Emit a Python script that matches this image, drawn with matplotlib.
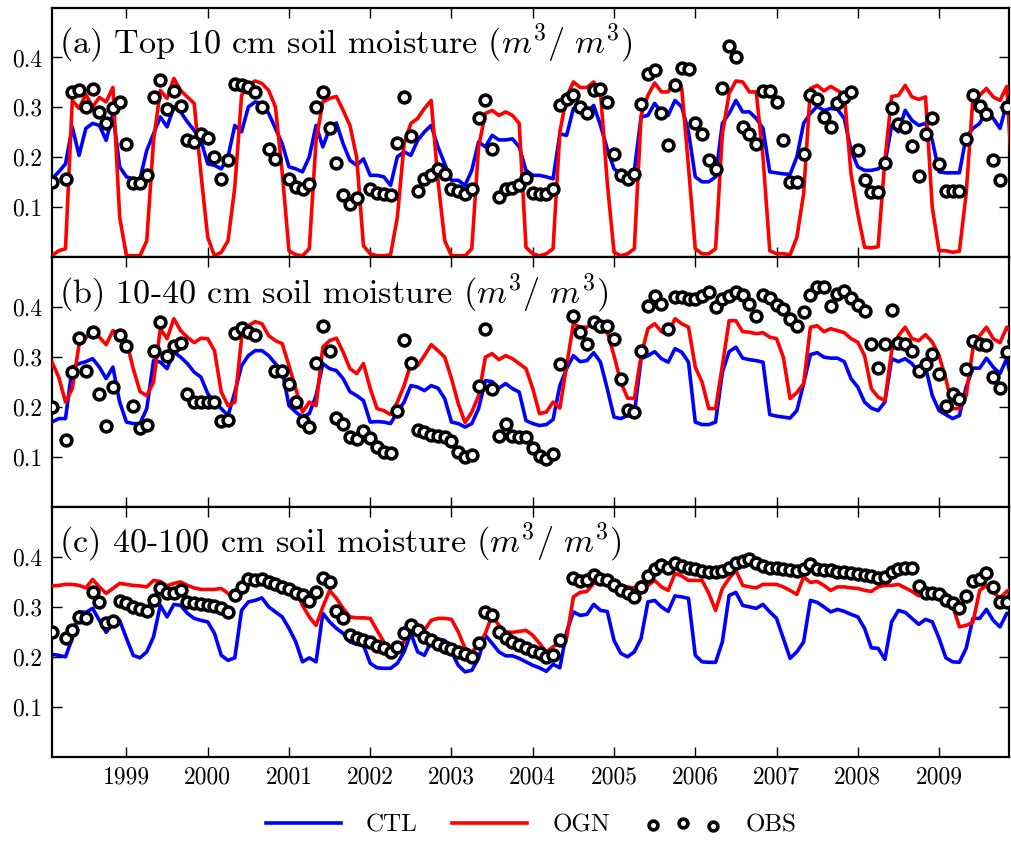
import numpy as np
import matplotlib
matplotlib.use('Agg')
import matplotlib.pyplot as plt

nan = np.nan

# monthly values, Feb 1998 .. Dec 2009 (one row per year)
months = np.arange(1, 144)
years = [1999, 2000, 2001, 2002, 2003, 2004, 2005, 2006, 2007, 2008, 2009]

# (a) top 10 cm
ctl_a = [0.157, 0.171, 0.187, 0.261, 0.204, 0.258, 0.268, 0.264, 0.234, 0.288, 0.181,
         0.161, 0.157, 0.157, 0.214, 0.247, 0.281, 0.261, 0.301, 0.291, 0.271, 0.254, 0.234,
         0.187, 0.184, 0.177, 0.201, 0.264, 0.251, 0.301, 0.311, 0.308, 0.288, 0.258, 0.227,
         0.181, 0.177, 0.171, 0.201, 0.264, 0.221, 0.258, 0.269, 0.227, 0.194, 0.184, 0.197,
         0.164, 0.164, 0.161, 0.144, 0.201, 0.211, 0.204, 0.234, 0.251, 0.264, 0.221, 0.187,
         0.154, 0.154, 0.144, 0.174, 0.231, 0.221, 0.244, 0.235, 0.235, 0.237, 0.221, 0.174,
         0.164, 0.164, 0.161, 0.157, 0.247, 0.244, 0.298, 0.291, 0.291, 0.304, 0.264, 0.217,
         0.177, 0.167, 0.167, 0.174, 0.281, 0.284, 0.308, 0.291, 0.284, 0.314, 0.301, 0.251,
         0.161, 0.151, 0.151, 0.161, 0.268, 0.288, 0.314, 0.291, 0.291, 0.278, 0.258, 0.171,
         0.169, 0.167, 0.166, 0.201, 0.268, 0.288, 0.302, 0.294, 0.298, 0.296, 0.278, 0.214,
         0.181, 0.174, 0.174, 0.177, 0.187, 0.264, 0.251, 0.294, 0.274, 0.264, 0.268, 0.234,
         0.171, 0.169, 0.169, 0.169, 0.241, 0.258, 0.268, 0.294, 0.278, 0.258, 0.308, 0.247]
ogn_a = [0.003, 0.013, 0.017, 0.314, 0.298, 0.326, 0.301, 0.32, 0.311, 0.34, 0.08,
         0.003, 0.003, 0.003, 0.033, 0.234, 0.334, 0.318, 0.358, 0.334, 0.321, 0.308, 0.167,
         0.04, 0.003, 0.01, 0.033, 0.14, 0.324, 0.344, 0.353, 0.348, 0.334, 0.301, 0.17,
         0.013, 0.005, 0.003, 0.017, 0.234, 0.311, 0.318, 0.322, 0.294, 0.264, 0.2, 0.023,
         0.007, 0.003, 0.003, 0.005, 0.08, 0.227, 0.268, 0.278, 0.298, 0.314, 0.154, 0.033,
         0.003, 0.003, 0.003, 0.017, 0.221, 0.288, 0.294, 0.284, 0.291, 0.284, 0.268, 0.02,
         0.007, 0.003, 0.007, 0.017, 0.251, 0.321, 0.351, 0.34, 0.34, 0.351, 0.331, 0.15,
         0.01, 0.003, 0.007, 0.017, 0.284, 0.324, 0.349, 0.331, 0.331, 0.355, 0.338, 0.181,
         0.017, 0.007, 0.007, 0.017, 0.247, 0.328, 0.353, 0.351, 0.331, 0.331, 0.2, 0.013,
         0.007, 0.007, 0.005, 0.04, 0.127, 0.338, 0.344, 0.333, 0.342, 0.334, 0.326, 0.167,
         0.087, 0.02, 0.019, 0.021, 0.194, 0.322, 0.324, 0.344, 0.321, 0.316, 0.321, 0.1,
         0.013, 0.013, 0.01, 0.012, 0.127, 0.318, 0.324, 0.338, 0.321, 0.314, 0.342, 0.114]
obs_a = [0.15, nan, 0.157, 0.331, 0.334, 0.301, 0.336, 0.291, 0.268, 0.298, 0.311,
         0.226, 0.148, 0.148, 0.164, 0.32, 0.355, 0.296, 0.333, 0.302, 0.234, 0.231, 0.247,
         0.239, 0.2, 0.156, 0.194, 0.346, 0.344, 0.34, 0.331, 0.301, 0.217, 0.197, nan,
         0.157, 0.14, 0.137, 0.146, 0.3, 0.331, 0.258, 0.189, 0.124, 0.107, 0.119, nan,
         0.137, 0.128, 0.126, 0.124, 0.229, 0.32, 0.242, 0.132, 0.157, 0.164, 0.177, 0.167,
         0.137, 0.132, 0.126, 0.137, 0.278, 0.314, 0.217, 0.12, 0.137, 0.139, 0.144, 0.159,
         0.128, 0.127, 0.127, 0.137, 0.304, 0.316, 0.324, 0.301, 0.288, 0.334, 0.336, 0.311,
         0.207, 0.164, 0.157, 0.166, 0.306, 0.367, 0.375, 0.288, 0.224, 0.344, 0.378, 0.376,
         0.269, 0.246, 0.195, 0.177, 0.338, 0.423, 0.4, 0.261, 0.246, 0.227, 0.333, 0.333,
         0.311, 0.235, 0.151, 0.151, 0.207, 0.324, 0.316, 0.281, 0.261, 0.309, 0.321, 0.331,
         0.215, 0.154, 0.13, 0.13, 0.189, 0.298, 0.266, 0.261, 0.223, 0.163, 0.247, 0.278,
         0.187, 0.132, 0.132, 0.132, 0.237, 0.324, 0.302, 0.286, 0.194, 0.154, 0.301, 0.318]

# (b) 10-40 cm
ctl_b = [0.17, 0.177, 0.177, 0.28, 0.287, 0.291, 0.297, 0.28, 0.257, 0.28, 0.21,
         0.17, 0.167, 0.167, 0.197, 0.293, 0.29, 0.277, 0.31, 0.3, 0.287, 0.27, 0.26,
         0.227, 0.21, 0.197, 0.183, 0.23, 0.283, 0.303, 0.313, 0.313, 0.303, 0.287, 0.273,
         0.203, 0.19, 0.18, 0.187, 0.223, 0.287, 0.277, 0.273, 0.257, 0.231, 0.223, 0.213,
         0.17, 0.171, 0.17, 0.167, 0.19, 0.21, 0.243, 0.24, 0.233, 0.243, 0.238, 0.217,
         0.17, 0.167, 0.16, 0.167, 0.197, 0.253, 0.251, 0.238, 0.247, 0.237, 0.23, 0.173,
         0.167, 0.163, 0.165, 0.175, 0.243, 0.277, 0.303, 0.291, 0.293, 0.309, 0.29, 0.237,
         0.18, 0.177, 0.183, 0.187, 0.297, 0.303, 0.311, 0.297, 0.29, 0.317, 0.31, 0.29,
         0.17, 0.165, 0.165, 0.17, 0.27, 0.311, 0.32, 0.298, 0.295, 0.293, 0.29, 0.185,
         0.182, 0.18, 0.178, 0.193, 0.247, 0.305, 0.309, 0.3, 0.298, 0.298, 0.291, 0.257,
         0.24, 0.21, 0.198, 0.193, 0.21, 0.297, 0.291, 0.297, 0.287, 0.27, 0.28, 0.223,
         0.193, 0.185, 0.177, 0.183, 0.24, 0.278, 0.278, 0.298, 0.28, 0.267, 0.297, 0.237]
ogn_b = [0.29, 0.26, 0.21, 0.237, 0.325, 0.338, 0.357, 0.34, 0.325, 0.353, 0.347,
         0.333, 0.277, 0.231, 0.223, 0.25, 0.357, 0.337, 0.377, 0.353, 0.34, 0.329, 0.338,
         0.337, 0.313, 0.23, 0.203, 0.21, 0.338, 0.363, 0.371, 0.367, 0.343, 0.333, 0.327,
         0.283, 0.237, 0.19, 0.21, 0.203, 0.32, 0.333, 0.338, 0.31, 0.277, 0.267, 0.287,
         0.237, 0.197, 0.193, 0.185, 0.21, 0.243, 0.287, 0.283, 0.303, 0.325, 0.313, 0.3,
         0.257, 0.207, 0.169, 0.19, 0.223, 0.3, 0.307, 0.295, 0.303, 0.297, 0.287, 0.277,
         0.237, 0.187, 0.19, 0.21, 0.198, 0.283, 0.367, 0.36, 0.36, 0.37, 0.35, 0.351,
         0.303, 0.25, 0.218, 0.217, 0.303, 0.357, 0.367, 0.351, 0.347, 0.377, 0.367, 0.36,
         0.28, 0.25, 0.197, 0.197, 0.283, 0.373, 0.373, 0.351, 0.35, 0.347, 0.349, 0.34,
         0.337, 0.3, 0.217, 0.229, 0.247, 0.36, 0.363, 0.351, 0.357, 0.353, 0.349, 0.337,
         0.33, 0.303, 0.237, 0.22, 0.213, 0.313, 0.343, 0.36, 0.337, 0.333, 0.345, 0.33,
         0.303, 0.257, 0.197, 0.197, 0.223, 0.317, 0.343, 0.36, 0.337, 0.329, 0.36, 0.343]
obs_b = [0.2, nan, 0.135, 0.27, 0.338, 0.273, 0.351, 0.227, 0.163, 0.24, 0.345,
         0.323, 0.203, 0.158, 0.165, 0.313, 0.371, 0.303, 0.323, 0.329, 0.227, 0.211, 0.211,
         0.211, 0.21, 0.173, 0.175, 0.349, 0.358, 0.351, 0.345, nan, nan, 0.273, 0.273,
         0.247, 0.211, 0.173, 0.16, 0.289, 0.363, 0.313, 0.178, 0.167, 0.14, 0.137, 0.153,
         0.138, 0.12, 0.111, 0.109, 0.193, 0.335, 0.289, 0.155, 0.15, 0.145, 0.142, 0.14,
         0.133, 0.11, 0.1, 0.105, 0.242, 0.357, 0.237, 0.143, 0.167, 0.143, 0.14, 0.14,
         0.118, 0.103, 0.097, 0.107, 0.287, nan, 0.382, 0.35, 0.327, 0.37, 0.362, 0.362,
         0.337, 0.257, 0.195, 0.19, 0.313, 0.403, 0.422, 0.407, 0.357, 0.42, 0.42, 0.417,
         0.417, 0.423, 0.431, 0.4, 0.417, 0.423, 0.431, 0.425, 0.407, 0.383, 0.425, 0.418,
         0.405, 0.397, 0.377, 0.362, 0.391, 0.425, 0.44, 0.44, 0.403, 0.427, 0.433, 0.418,
         0.405, 0.393, 0.327, 0.278, 0.327, 0.395, 0.329, 0.327, 0.313, 0.273, 0.287, 0.307,
         0.267, 0.202, 0.227, 0.217, 0.277, 0.333, 0.327, 0.325, 0.26, 0.238, 0.31, 0.333]

# (c) 40-100 cm
ctl_c = [0.205, 0.203, 0.2, 0.237, 0.29, 0.289, 0.297, 0.273, 0.249, 0.267, 0.273,
         0.237, 0.203, 0.198, 0.21, 0.24, 0.303, 0.28, 0.305, 0.303, 0.287, 0.277, 0.273,
         0.27, 0.247, 0.203, 0.193, 0.198, 0.293, 0.31, 0.313, 0.318, 0.3, 0.29, 0.28,
         0.257, 0.23, 0.19, 0.198, 0.19, 0.287, 0.27, 0.257, 0.247, 0.23, 0.225, 0.223,
         0.187, 0.178, 0.177, 0.177, 0.187, 0.21, 0.247, 0.21, 0.203, 0.231, 0.235, 0.233,
         0.21, 0.183, 0.17, 0.173, 0.197, 0.243, 0.227, 0.21, 0.202, 0.202, 0.197, 0.19,
         0.183, 0.178, 0.171, 0.185, 0.178, 0.25, 0.29, 0.283, 0.285, 0.305, 0.293, 0.291,
         0.233, 0.207, 0.2, 0.21, 0.237, 0.31, 0.313, 0.3, 0.291, 0.322, 0.32, 0.317,
         0.203, 0.19, 0.189, 0.189, 0.23, 0.323, 0.329, 0.303, 0.3, 0.297, 0.305, 0.29,
         0.277, 0.237, 0.197, 0.21, 0.23, 0.313, 0.309, 0.3, 0.29, 0.295, 0.291, 0.285,
         0.28, 0.257, 0.218, 0.217, 0.195, 0.27, 0.293, 0.289, 0.277, 0.265, 0.275, 0.27,
         0.237, 0.198, 0.19, 0.189, 0.217, 0.277, 0.277, 0.295, 0.273, 0.26, 0.287, 0.287]
ogn_c = [0.342, 0.343, 0.345, 0.345, 0.343, 0.338, 0.355, 0.34, 0.327, 0.337, 0.347,
         0.345, 0.343, 0.342, 0.34, 0.353, 0.351, 0.342, 0.347, 0.35, 0.343, 0.338, 0.335,
         0.335, 0.335, 0.337, 0.327, 0.313, 0.331, 0.351, 0.353, 0.358, 0.349, 0.343, 0.34,
         0.337, 0.333, 0.303, 0.28, 0.263, 0.3, 0.333, 0.317, 0.297, 0.28, 0.278, 0.278,
         0.277, 0.253, 0.23, 0.21, 0.217, 0.23, 0.267, 0.26, 0.253, 0.273, 0.277, 0.277,
         0.275, 0.25, 0.217, 0.21, 0.223, 0.247, 0.283, 0.263, 0.25, 0.249, 0.251, 0.253,
         0.243, 0.227, 0.21, 0.22, 0.23, 0.238, 0.32, 0.329, 0.331, 0.347, 0.349, 0.345,
         0.345, 0.343, 0.34, 0.338, 0.35, 0.343, 0.353, 0.34, 0.333, 0.367, 0.362, 0.353,
         0.353, 0.353, 0.327, 0.293, 0.337, 0.357, 0.373, 0.343, 0.34, 0.338, 0.345, 0.345,
         0.345, 0.34, 0.333, 0.325, 0.36, 0.349, 0.351, 0.343, 0.333, 0.34, 0.34, 0.338,
         0.337, 0.333, 0.331, 0.34, 0.343, 0.343, 0.345, 0.338, 0.331, 0.322, 0.327, 0.327,
         0.329, 0.327, 0.303, 0.26, 0.263, 0.269, 0.333, 0.343, 0.329, 0.318, 0.331, 0.34]
obs_c = [0.249, nan, 0.238, 0.253, 0.28, 0.278, 0.33, 0.309, 0.267, 0.271, 0.311,
         0.307, 0.3, 0.295, 0.291, 0.313, 0.338, 0.327, 0.327, 0.333, 0.31, 0.307, 0.305,
         0.303, 0.302, 0.297, 0.29, 0.323, 0.34, 0.355, 0.353, 0.355, 0.349, 0.345, 0.34,
         0.335, 0.327, 0.323, 0.311, 0.329, 0.358, 0.349, 0.291, 0.277, 0.243, 0.237, 0.233,
         0.229, 0.222, 0.217, 0.21, 0.22, 0.247, 0.263, 0.253, 0.24, 0.233, 0.225, 0.22,
         0.215, 0.21, 0.205, 0.2, 0.227, 0.29, 0.283, 0.25, 0.237, 0.23, 0.223, 0.218,
         0.211, 0.207, 0.2, 0.203, 0.233, nan, 0.357, 0.351, 0.353, 0.363, 0.355, 0.353,
         0.343, 0.333, 0.327, 0.32, 0.34, 0.362, 0.375, 0.383, 0.377, 0.387, 0.382, 0.377,
         0.375, 0.371, 0.37, 0.37, 0.371, 0.377, 0.387, 0.391, 0.395, 0.387, 0.382, 0.378,
         0.377, 0.375, 0.373, 0.371, 0.375, 0.385, 0.375, 0.373, 0.373, 0.37, 0.369, 0.367,
         0.365, 0.363, 0.362, 0.358, 0.36, 0.37, 0.375, 0.378, 0.377, 0.342, 0.327, 0.327,
         0.325, 0.313, 0.307, 0.297, 0.322, 0.351, 0.355, 0.367, 0.34, 0.309, 0.309, 0.323]

titles = [r'(a) Top 10 cm soil moisture $(m^3/\ m^3)$',
          r'(b) 10-40 cm soil moisture $(m^3/\ m^3)$',
          r'(c) 40-100 cm soil moisture $(m^3/\ m^3)$']

plt.rcParams['font.family'] = 'cmr10'
plt.rcParams['mathtext.fontset'] = 'cm'
plt.rcParams['axes.formatter.use_mathtext'] = True

t = 1998 + months / 12.0

fig, axes = plt.subplots(3, 1, sharex=True, figsize=(10.11, 8.44), dpi=100)
fig.subplots_adjust(left=0.0514, right=0.9985, bottom=0.1034, top=0.9911, hspace=0)

panels = [(ctl_a, ogn_a, obs_a), (ctl_b, ogn_b, obs_b), (ctl_c, ogn_c, obs_c)]
for ax, (ctl, ogn, obs), title in zip(axes, panels, titles):
    ax.plot(t, ctl, color='blue', lw=2.6, label='CTL', zorder=2)
    ax.plot(t, ogn, color='red', lw=2.6, label='OGN', zorder=3)
    ax.scatter(t, obs, s=60, facecolors='white', edgecolors='black',
               linewidths=2.6, label='OBS', zorder=4)
    ax.set_ylim(0, 0.5)
    ax.set_yticks([0.1, 0.2, 0.3, 0.4])
    ax.set_yticklabels(['0.1', '0.2', '0.3', '0.4'])
    ax.set_xlim(1998 + 1 / 12.0, 1998 + 142.4 / 12.0)
    ax.set_xticks(years)
    ax.tick_params(direction='in', top=True, right=True, length=7, width=1,
                   labelsize=17, pad=7)
    for s in ax.spines.values():
        s.set_linewidth(1.6)
    ax.text(0.007, 0.86, title, transform=ax.transAxes, fontsize=24.6, va='center')

axes[2].set_xticklabels([str(y) for y in years])

h, l = axes[0].get_legend_handles_labels()
leg = fig.legend(h, l, loc='center', bbox_to_anchor=(0.525, 0.022), ncol=3,
                 frameon=False, fontsize=18, handlelength=3, columnspacing=1.4,
                 scatterpoints=3, handletextpad=1.0)
leg.legend_handles[2].set_sizes([40])

fig.savefig('out.png', dpi=100)
